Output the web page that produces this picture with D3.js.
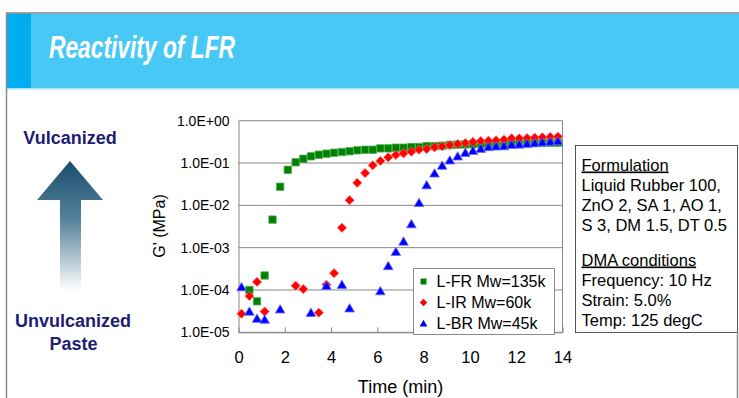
<!DOCTYPE html>
<html>
<head>
<meta charset="utf-8">
<script src="https://cdn.jsdelivr.net/npm/d3@7"></script>
<style>
  body { margin: 0; background: #fff; }
  svg { display: block; font-family: "Liberation Sans", Arial, sans-serif; }
</style>
</head>
<body>
<div id="chart"></div>
<script>
// time (min), one sample every 20 s
const times = [0.13, 0.47, 0.8, 1.13, 1.47, 1.8, 2.13, 2.47, 2.8, 3.13, 3.47, 3.8, 4.13, 4.47,
  4.8, 5.13, 5.47, 5.8, 6.13, 6.47, 6.8, 7.13, 7.47, 7.8, 8.13, 8.47, 8.8, 9.13, 9.47, 9.8,
  10.13, 10.47, 10.8, 11.13, 11.47, 11.8, 12.13, 12.47, 12.8, 13.13, 13.47, 13.8]

// G' (MPa), null = not shown
const lfr = [null, 1.0e-4, 5.4e-5, 2.2e-4, 4.6e-3, 2.75e-2, 6.9e-2, 0.104, 0.126, 0.144, 0.157,
  0.166, 0.175, 0.182, 0.19, 0.2, 0.206, 0.206, 0.222, 0.222, 0.23, 0.23, 0.239, 0.239, 0.252,
  0.252, 0.256, 0.267, 0.272, 0.275, 0.278, 0.28, 0.283, 0.285, 0.288, 0.29, 0.292, 0.294,
  0.296, 0.298, 0.3, 0.302]
const lir = [2.75e-5, 7.2e-5, 1.55e-4, 3.1e-5, null, null, null, 1.26e-4, 1.05e-4, null, 2.9e-5,
  1.33e-4, 2.5e-4, 2.95e-3, 1.32e-2, 3.4e-2, 5.8e-2, 8.8e-2, 0.112, 0.136, 0.155, 0.169, 0.185,
  0.206, 0.214, 0.235, 0.248, 0.267, 0.281, 0.297, 0.314, 0.331, 0.337, 0.343, 0.356, 0.383,
  0.383, 0.39, 0.397, 0.405, 0.412, 0.42]
const lbr = [1.17e-4, 3.1e-5, 2.1e-5, 2.0e-5, null, 3.5e-5, null, null, null, 2.9e-5, null,
  1.26e-4, null, 1.33e-4, 3.7e-5, null, null, null, 9.4e-5, 3.7e-4, 8.0e-4, 1.4e-3, 3.6e-3,
  1.15e-2, 3.0e-2, 5.7e-2, 8.7e-2, 0.116, 0.144, 0.175, 0.195, 0.218, 0.24, 0.248, 0.252,
  0.271, 0.275, 0.286, 0.297, 0.31, 0.32, 0.33]

const seriesNames = ['L-FR Mw=135k', 'L-IR Mw=60k', 'L-BR Mw=45k']
const xTicks = [0, 2, 4, 6, 8, 10, 12, 14]
const yTicks = [1, 1e-1, 1e-2, 1e-3, 1e-4, 1e-5]
const formulation = ['Liquid Rubber 100,', 'ZnO 2, SA 1, AO 1,', 'S 3, DM 1.5, DT 0.5']
const dmaConditions = ['Frequency: 10 Hz', 'Strain: 5.0%', 'Temp: 125 degC']

const W = 739
const H = 398

const svg = d3.select('#chart').append('svg').attr('width', W).attr('height', H)
const defs = svg.append('defs')

// slide frame + title bar
svg.append('rect').attr('x', 7).attr('y', 13.5).attr('width', W - 7).attr('height', 75).attr('fill', '#47c8f5')
svg.append('rect').attr('x', 7).attr('y', 13.5).attr('width', 24).attr('height', 75).attr('fill', '#00adef')
svg.append('rect').attr('x', 7).attr('y', 88).attr('width', W - 7).attr('height', 1.5).attr('fill', '#a6e4f9')
svg.append('line').attr('x1', 6).attr('x2', W).attr('y1', 13).attr('y2', 13).attr('stroke', '#8a8a8a').attr('stroke-width', 1.5)
svg.append('line').attr('x1', 6.5).attr('x2', 6.5).attr('y1', 12.5).attr('y2', H).attr('stroke', '#8a8a8a').attr('stroke-width', 1.5)

svg.append('text')
  .attr('x', 49).attr('y', 57.5)
  .attr('font-size', 31).attr('font-weight', 'bold').attr('font-style', 'italic')
  .attr('fill', '#fff')
  .attr('textLength', 186).attr('lengthAdjust', 'spacingAndGlyphs')
  .text('Reactivity of LFR')

// left arrow
const grad = defs.append('linearGradient').attr('id', 'arrowGrad')
  .attr('x1', 0).attr('y1', 0).attr('x2', 0).attr('y2', 1)
grad.append('stop').attr('offset', '0%').attr('stop-color', '#1a4e6d')
grad.append('stop').attr('offset', '45%').attr('stop-color', '#55829a')
grad.append('stop').attr('offset', '100%').attr('stop-color', '#ffffff')

svg.append('path')
  .attr('d', 'M70,161L103,200L81,200L81,291L60,291L60,200L37,200Z')
  .attr('fill', 'url(#arrowGrad)')

const navy = '#1d1d74'
svg.append('text').attr('x', 70).attr('y', 143.5).attr('text-anchor', 'middle')
  .attr('font-size', 18).attr('font-weight', 'bold').attr('fill', navy).text('Vulcanized')
svg.append('text').attr('x', 73).attr('y', 327).attr('text-anchor', 'middle')
  .attr('font-size', 18).attr('font-weight', 'bold').attr('fill', navy).text('Unvulcanized')
svg.append('text').attr('x', 73.5).attr('y', 349.5).attr('text-anchor', 'middle')
  .attr('font-size', 18).attr('font-weight', 'bold').attr('fill', navy).text('Paste')

// chart
const x = d3.scaleLinear().domain([0, 14]).range([238.5, 562.5])
const y = d3.scaleLog().domain([1e-5, 1]).range([332.3, 120.7])
const gridColor = '#878787'

const grid = svg.append('g')
grid.selectAll('line')
  .data(yTicks)
  .join('line')
  .attr('x1', x(0)).attr('x2', x(14))
  .attr('y1', (d) => y(d)).attr('y2', (d) => y(d))
  .attr('stroke', gridColor).attr('stroke-width', 1)
grid.append('line')
  .attr('x1', x(14)).attr('x2', x(14)).attr('y1', y(1)).attr('y2', y(1e-5))
  .attr('stroke', gridColor)

const fmtExp = (d) => {
  const e = Math.round(Math.log10(d))
  return '1.0E' + (e >= 0 ? '+' : '-') + String(Math.abs(e)).padStart(2, '0')
}

const yAxis = svg.append('g')
  .attr('transform', `translate(${x(0)},0)`)
  .call(d3.axisLeft(y).tickValues(yTicks).tickFormat(fmtExp).tickSize(0).tickPadding(9))
yAxis.select('.domain').attr('stroke', gridColor)
yAxis.selectAll('text').attr('font-size', 14).attr('font-family', '"Liberation Sans", Arial, sans-serif').attr('fill', '#000')

const xAxis = svg.append('g')
  .attr('transform', `translate(0,${y(1e-5)})`)
  .call(d3.axisBottom(x).tickValues(xTicks).tickSizeInner(-5).tickSizeOuter(0).tickPadding(19))
xAxis.select('.domain').attr('stroke', gridColor)
xAxis.selectAll('line').attr('stroke', gridColor)
xAxis.selectAll('text').attr('font-size', 16.5).attr('font-family', '"Liberation Sans", Arial, sans-serif').attr('fill', '#000')

svg.append('text')
  .attr('x', (x(0) + x(14)) / 2).attr('y', 393)
  .attr('text-anchor', 'middle').attr('font-size', 18).text('Time (min)')

svg.append('text')
  .attr('transform', 'translate(165,226) rotate(-90)')
  .attr('text-anchor', 'middle').attr('font-size', 16).text("G' (MPa)")

// marker shapes
const markers = [
  { fill: '#008000', stroke: '#4fae4f', path: (s) => `M${-s},${-s}H${s}V${s}H${-s}Z` },
  { fill: '#ff0000', stroke: '#ff6a6a', path: (s) => `M0,${-s * 1.25}L${s * 1.25},0L0,${s * 1.25}L${-s * 1.25},0Z` },
  { fill: '#0000ff', stroke: '#6a6aff', path: (s) => `M0,${-s * 1.25}L${s * 1.3},${s}L${-s * 1.3},${s}Z` }
]

const series = [lfr, lir, lbr]
series.forEach((vals, i) => {
  const pts = times.map((t, j) => ({ t, v: vals[j] })).filter((d) => d.v != null)
  svg.append('g')
    .selectAll('path')
    .data(pts)
    .join('path')
    .attr('transform', (d) => `translate(${x(d.t)},${y(d.v)})`)
    .attr('d', markers[i].path(3.7))
    .attr('fill', markers[i].fill)
    .attr('stroke', markers[i].stroke)
    .attr('stroke-width', 0.8)
})

// legend
const legend = svg.append('g').attr('transform', 'translate(413.5,268.5)')
legend.append('rect').attr('width', 141).attr('height', 66)
  .attr('fill', '#fff').attr('stroke', '#8a8a8a')
seriesNames.forEach((name, i) => {
  const row = legend.append('g').attr('transform', `translate(10,${13 + i * 21})`)
  row.append('path').attr('d', markers[i].path(3)).attr('fill', markers[i].fill)
  row.append('text').attr('x', 13).attr('y', 5.5).attr('font-size', 16).text(name)
})

// conditions box
const box = svg.append('g').attr('transform', 'translate(575.5,145.5)')
box.append('rect').attr('width', 162).attr('height', 187).attr('fill', '#fff').attr('stroke', '#555')
const boxLines = [
  { t: 'Formulation', u: true, y: 25 },
  ...formulation.map((t, i) => ({ t, y: 45 + i * 20 })),
  { t: 'DMA conditions', u: true, y: 120 },
  ...dmaConditions.map((t, i) => ({ t, y: 140 + i * 20 }))
]
box.selectAll('text')
  .data(boxLines)
  .join('text')
  .attr('x', 6).attr('y', (d) => d.y)
  .attr('font-size', 16.5)
  .attr('text-decoration', (d) => (d.u ? 'underline' : null))
  .text((d) => d.t)

// slide right edge below the box
svg.append('line').attr('x1', 737.5).attr('x2', 737.5).attr('y1', 332).attr('y2', H)
  .attr('stroke', '#8a8a8a').attr('stroke-width', 1.5)
</script>
</body>
</html>
